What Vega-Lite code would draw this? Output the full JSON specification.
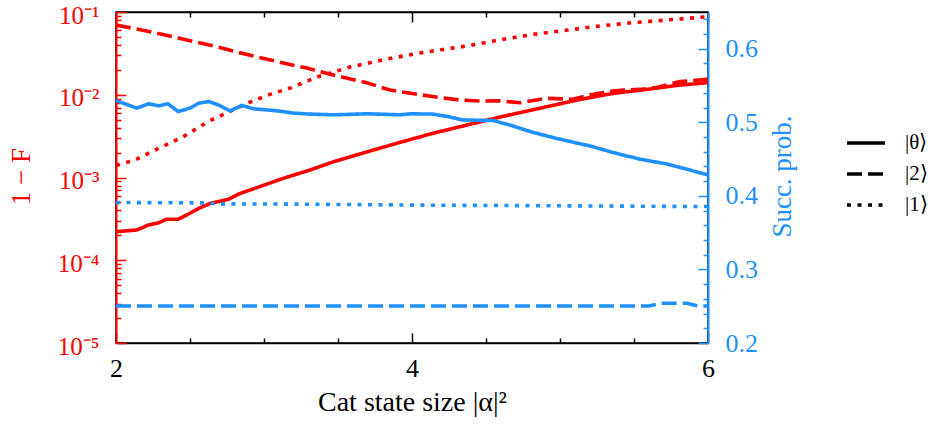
{
  "$schema": "https://vega.github.io/schema/vega-lite/v6.json",
  "width": 592,
  "height": 331,
  "autosize": {"type": "none"},
  "padding": {"left": 116, "top": 12, "right": 222, "bottom": 81},
  "background": "white",
  "config": {
    "font": "Liberation Serif",
    "view": {"stroke": "black", "strokeWidth": 1.5},
    "axis": {"grid": false, "labelFlush": false, "labelOverlap": false}
  },
  "datasets": {
    "infid": [
      {"state": "|θ⟩", "x": 2.0, "v": 0.000221},
      {"state": "|θ⟩", "x": 2.14, "v": 0.000232},
      {"state": "|θ⟩", "x": 2.22, "v": 0.000267},
      {"state": "|θ⟩", "x": 2.29, "v": 0.000284},
      {"state": "|θ⟩", "x": 2.34, "v": 0.000313},
      {"state": "|θ⟩", "x": 2.42, "v": 0.000313},
      {"state": "|θ⟩", "x": 2.49, "v": 0.000362},
      {"state": "|θ⟩", "x": 2.56, "v": 0.000425},
      {"state": "|θ⟩", "x": 2.64, "v": 0.000488},
      {"state": "|θ⟩", "x": 2.76, "v": 0.000546},
      {"state": "|θ⟩", "x": 2.84, "v": 0.000644},
      {"state": "|θ⟩", "x": 2.97, "v": 0.000774},
      {"state": "|θ⟩", "x": 3.13, "v": 0.000977},
      {"state": "|θ⟩", "x": 3.31, "v": 0.00123},
      {"state": "|θ⟩", "x": 3.47, "v": 0.00155},
      {"state": "|θ⟩", "x": 3.7, "v": 0.00205},
      {"state": "|θ⟩", "x": 3.92, "v": 0.00266},
      {"state": "|θ⟩", "x": 4.14, "v": 0.00342},
      {"state": "|θ⟩", "x": 4.37, "v": 0.0043},
      {"state": "|θ⟩", "x": 4.59, "v": 0.00535},
      {"state": "|θ⟩", "x": 4.91, "v": 0.00717},
      {"state": "|θ⟩", "x": 5.14, "v": 0.00881},
      {"state": "|θ⟩", "x": 5.36, "v": 0.0104},
      {"state": "|θ⟩", "x": 5.59, "v": 0.01163},
      {"state": "|θ⟩", "x": 5.81, "v": 0.0131},
      {"state": "|θ⟩", "x": 6.0, "v": 0.014},
      {"state": "|2⟩", "x": 2.0, "v": 0.0697},
      {"state": "|2⟩", "x": 2.23, "v": 0.0578},
      {"state": "|2⟩", "x": 2.45, "v": 0.0472},
      {"state": "|2⟩", "x": 2.68, "v": 0.0381},
      {"state": "|2⟩", "x": 2.9, "v": 0.0302},
      {"state": "|2⟩", "x": 3.13, "v": 0.0242},
      {"state": "|2⟩", "x": 3.29, "v": 0.021},
      {"state": "|2⟩", "x": 3.47, "v": 0.0173},
      {"state": "|2⟩", "x": 3.7, "v": 0.0139},
      {"state": "|2⟩", "x": 3.85, "v": 0.0114},
      {"state": "|2⟩", "x": 3.99, "v": 0.0104},
      {"state": "|2⟩", "x": 4.14, "v": 0.0095},
      {"state": "|2⟩", "x": 4.32, "v": 0.00865},
      {"state": "|2⟩", "x": 4.46, "v": 0.0084},
      {"state": "|2⟩", "x": 4.59, "v": 0.00845},
      {"state": "|2⟩", "x": 4.73, "v": 0.008},
      {"state": "|2⟩", "x": 4.91, "v": 0.00906},
      {"state": "|2⟩", "x": 5.09, "v": 0.00881},
      {"state": "|2⟩", "x": 5.2, "v": 0.00993},
      {"state": "|2⟩", "x": 5.32, "v": 0.0109},
      {"state": "|2⟩", "x": 5.43, "v": 0.0114},
      {"state": "|2⟩", "x": 5.54, "v": 0.0116},
      {"state": "|2⟩", "x": 5.66, "v": 0.0123},
      {"state": "|2⟩", "x": 5.81, "v": 0.0144},
      {"state": "|2⟩", "x": 6.0, "v": 0.0154},
      {"state": "|1⟩", "x": 2.0, "v": 0.0014},
      {"state": "|1⟩", "x": 2.13, "v": 0.00163},
      {"state": "|1⟩", "x": 2.25, "v": 0.00209},
      {"state": "|1⟩", "x": 2.45, "v": 0.00308},
      {"state": "|1⟩", "x": 2.63, "v": 0.00482},
      {"state": "|1⟩", "x": 2.89, "v": 0.00794},
      {"state": "|1⟩", "x": 3.04, "v": 0.0101},
      {"state": "|1⟩", "x": 3.18, "v": 0.0121},
      {"state": "|1⟩", "x": 3.36, "v": 0.0164},
      {"state": "|1⟩", "x": 3.58, "v": 0.0216},
      {"state": "|1⟩", "x": 3.8, "v": 0.0263},
      {"state": "|1⟩", "x": 4.05, "v": 0.032},
      {"state": "|1⟩", "x": 4.37, "v": 0.0388},
      {"state": "|1⟩", "x": 4.59, "v": 0.0459},
      {"state": "|1⟩", "x": 4.82, "v": 0.0537},
      {"state": "|1⟩", "x": 5.05, "v": 0.0605},
      {"state": "|1⟩", "x": 5.27, "v": 0.0678},
      {"state": "|1⟩", "x": 5.49, "v": 0.0743},
      {"state": "|1⟩", "x": 5.72, "v": 0.08},
      {"state": "|1⟩", "x": 6.0, "v": 0.0877}
    ],
    "succ": [
      {"state": "|θ⟩", "x": 2.0, "v": 0.5297},
      {"state": "|θ⟩", "x": 2.14, "v": 0.5193},
      {"state": "|θ⟩", "x": 2.22, "v": 0.5252},
      {"state": "|θ⟩", "x": 2.29, "v": 0.5224},
      {"state": "|θ⟩", "x": 2.35, "v": 0.5252},
      {"state": "|θ⟩", "x": 2.42, "v": 0.5147},
      {"state": "|θ⟩", "x": 2.5, "v": 0.5193},
      {"state": "|θ⟩", "x": 2.56, "v": 0.5261},
      {"state": "|θ⟩", "x": 2.63, "v": 0.5283},
      {"state": "|θ⟩", "x": 2.7, "v": 0.5229},
      {"state": "|θ⟩", "x": 2.77, "v": 0.5156},
      {"state": "|θ⟩", "x": 2.85, "v": 0.5229},
      {"state": "|θ⟩", "x": 2.93, "v": 0.5184},
      {"state": "|θ⟩", "x": 3.09, "v": 0.5156},
      {"state": "|θ⟩", "x": 3.2, "v": 0.5125},
      {"state": "|θ⟩", "x": 3.31, "v": 0.5112},
      {"state": "|θ⟩", "x": 3.47, "v": 0.5102},
      {"state": "|θ⟩", "x": 3.7, "v": 0.5116},
      {"state": "|θ⟩", "x": 3.92, "v": 0.5102},
      {"state": "|θ⟩", "x": 3.99, "v": 0.5116},
      {"state": "|θ⟩", "x": 4.14, "v": 0.5112},
      {"state": "|θ⟩", "x": 4.24, "v": 0.5079},
      {"state": "|θ⟩", "x": 4.34, "v": 0.5034},
      {"state": "|θ⟩", "x": 4.46, "v": 0.5027},
      {"state": "|θ⟩", "x": 4.55, "v": 0.5024},
      {"state": "|θ⟩", "x": 4.68, "v": 0.4952},
      {"state": "|θ⟩", "x": 4.82, "v": 0.4861},
      {"state": "|θ⟩", "x": 5.02, "v": 0.4761},
      {"state": "|θ⟩", "x": 5.2, "v": 0.468},
      {"state": "|θ⟩", "x": 5.36, "v": 0.4589},
      {"state": "|θ⟩", "x": 5.54, "v": 0.4499},
      {"state": "|θ⟩", "x": 5.72, "v": 0.4435},
      {"state": "|θ⟩", "x": 6.0, "v": 0.4286},
      {"state": "|2⟩", "x": 2.0, "v": 0.2503},
      {"state": "|2⟩", "x": 5.6, "v": 0.2503},
      {"state": "|2⟩", "x": 5.68, "v": 0.254},
      {"state": "|2⟩", "x": 5.86, "v": 0.254},
      {"state": "|2⟩", "x": 5.93, "v": 0.2503},
      {"state": "|2⟩", "x": 6.0, "v": 0.2503},
      {"state": "|1⟩", "x": 2.0, "v": 0.391},
      {"state": "|1⟩", "x": 2.6, "v": 0.3905},
      {"state": "|1⟩", "x": 2.7, "v": 0.3892},
      {"state": "|1⟩", "x": 3.3, "v": 0.3887},
      {"state": "|1⟩", "x": 4.0, "v": 0.3875},
      {"state": "|1⟩", "x": 5.0, "v": 0.3865},
      {"state": "|1⟩", "x": 6.0, "v": 0.3855}
    ]
  },
  "layer": [
    {
      "layer": [
        {
          "data": {"name": "infid"},
          "mark": {"type": "line", "color": "#ff0000", "strokeWidth": 3.6},
          "encoding": {
            "x": {
              "field": "x", "type": "quantitative",
              "scale": {"domain": [2, 6], "nice": false, "zero": false},
              "axis": {
                "orient": "bottom", "values": [2, 4, 6], "format": "d", "ticks": false,
                "domainColor": "black", "domainWidth": 1.5,
                "labelFontSize": 26, "labelColor": "black", "labelPadding": 12,
                "title": "Cat state size |α|²", "titleFontSize": 28, "titleColor": "black", "titleFontWeight": "normal",
                "titleBaseline": "alphabetic", "titleY": 67
              }
            },
            "y": {
              "field": "v", "type": "quantitative",
              "scale": {"type": "log", "domain": [0.00001, 0.1], "nice": false},
              "axis": {
                "orient": "left", "values": [0.00001, 0.0001, 0.001, 0.01, 0.1], "ticks": false,
                "labelExpr": "'10' + ['⁰','⁻¹','⁻²','⁻³','⁻⁴','⁻⁵'][-round(log(datum.value)/LN10)]",
                "domainColor": "#ff0000", "domainWidth": 2,
                "labelFontSize": 25, "labelColor": "#ff0000", "labelPadding": 17, "labelBaseline": "middle", "labelOffset": 3,
                "title": "1 − F", "titleFontSize": 27, "titleColor": "#ff0000", "titleFontWeight": "normal",
                "titleAngle": 270, "titleBaseline": "middle", "titleX": -95, "titleY": 164
              }
            },
            "strokeDash": {
              "field": "state", "type": "nominal",
              "scale": {"domain": ["|θ⟩", "|2⟩", "|1⟩"], "range": [[1, 0], [15, 6], [4, 6.5]]},
              "legend": {
                "orient": "none", "legendX": 729, "legendY": 110, "title": null,
                "symbolType": "stroke", "symbolSize": 1444, "symbolStrokeWidth": 3.6,
                "symbolStrokeColor": "black", "labelFontSize": 21,
                "labelColor": "black", "labelOffset": 18, "rowPadding": -9, "padding": 0,
                "encode": {"symbols": {"update": {"stroke": {"value": "black"}, "strokeWidth": {"value": 3.6}}}}
              }
            }
          }
        },
        {
          "data": {"name": "infid"},
          "mark": {"type": "point", "opacity": 0},
          "encoding": {
            "x": {"field": "x", "type": "quantitative",
              "axis": {"orient": "bottom", "values": [2, 4, 6], "labels": false, "domain": false, "title": null, "tickSize": -10, "tickWidth": 1.5, "tickColor": "black"}},
            "y": {"field": "v", "type": "quantitative",
              "axis": {"orient": "left", "values": [0.00001, 0.0001, 0.001, 0.01, 0.1], "labels": false, "domain": false, "title": null, "tickSize": -10, "tickWidth": 1.5, "tickColor": "#ff0000"}}
          }
        },
        {
          "data": {"name": "infid"},
          "mark": {"type": "point", "opacity": 0},
          "encoding": {
            "x": {"field": "x", "type": "quantitative",
              "axis": {"orient": "bottom", "values": [2.5, 3, 3.5, 4.5, 5, 5.5], "labels": false, "domain": false, "title": null, "tickSize": -5, "tickWidth": 1.5, "tickColor": "black"}},
            "y": {"field": "v", "type": "quantitative",
              "axis": {"orient": "left", "values": [0.00002, 0.00003, 0.00004, 0.00005, 0.00006, 0.00007, 0.00008, 0.00009, 0.0002, 0.0003, 0.0004, 0.0005, 0.0006, 0.0007, 0.0008, 0.0009, 0.002, 0.003, 0.004, 0.005, 0.006, 0.007, 0.008, 0.009, 0.02, 0.03, 0.04, 0.05, 0.06, 0.07, 0.08, 0.09], "labels": false, "domain": false, "title": null, "tickSize": -5, "tickWidth": 1.5, "tickColor": "#ff0000"}}
          }
        }
      ],
      "resolve": {"axis": {"x": "independent", "y": "independent"}}
    },
    {
      "layer": [
        {
          "data": {"name": "succ"},
          "mark": {"type": "line", "color": "#1e90ff", "strokeWidth": 3.6},
          "encoding": {
            "x": {"field": "x", "type": "quantitative",
              "axis": {"orient": "top", "values": [2, 4, 6], "labels": false, "title": null, "tickSize": -10, "tickWidth": 1.5, "tickColor": "black", "domainColor": "black", "domainWidth": 1.5}},
            "y": {
              "field": "v", "type": "quantitative",
              "scale": {"domain": [0.2, 0.65], "nice": false, "zero": false},
              "axis": {
                "orient": "right", "values": [0.2, 0.3, 0.4, 0.5, 0.6], "format": ".1f", "ticks": false,
                "domainColor": "#1e90ff", "domainWidth": 2,
                "labelFontSize": 26, "labelColor": "#1e90ff", "labelPadding": 17, "labelBaseline": "middle",
                "title": "Succ. prob.", "titleFontSize": 27, "titleColor": "#1e90ff", "titleFontWeight": "normal",
                "titleAngle": 270, "titleBaseline": "middle", "titleX": 74, "titleY": 164
              }
            },
            "strokeDash": {"field": "state", "type": "nominal"}
          }
        },
        {
          "data": {"name": "succ"},
          "mark": {"type": "point", "opacity": 0},
          "encoding": {
            "x": {"field": "x", "type": "quantitative",
              "axis": {"orient": "top", "values": [2.5, 3, 3.5, 4.5, 5, 5.5], "labels": false, "domain": false, "title": null, "tickSize": -5, "tickWidth": 1.5, "tickColor": "black"}},
            "y": {"field": "v", "type": "quantitative",
              "axis": {"orient": "right", "values": [0.2, 0.3, 0.4, 0.5, 0.6], "labels": false, "domain": false, "title": null, "tickSize": -10, "tickWidth": 1.5, "tickColor": "#1e90ff"}}
          }
        },
        {
          "data": {"name": "succ"},
          "mark": {"type": "point", "opacity": 0},
          "encoding": {
            "x": {"field": "x", "type": "quantitative", "axis": null},
            "y": {"field": "v", "type": "quantitative",
              "axis": {"orient": "right", "values": [0.22, 0.24, 0.26, 0.28, 0.32, 0.34, 0.36, 0.38, 0.42, 0.44, 0.46, 0.48, 0.52, 0.54, 0.56, 0.58, 0.62, 0.64], "labels": false, "domain": false, "title": null, "tickSize": -5, "tickWidth": 1.5, "tickColor": "#1e90ff"}}
          }
        }
      ],
      "resolve": {"axis": {"x": "independent", "y": "independent"}}
    }
  ],
  "resolve": {"scale": {"y": "independent"}, "axis": {"x": "independent"}}
}
